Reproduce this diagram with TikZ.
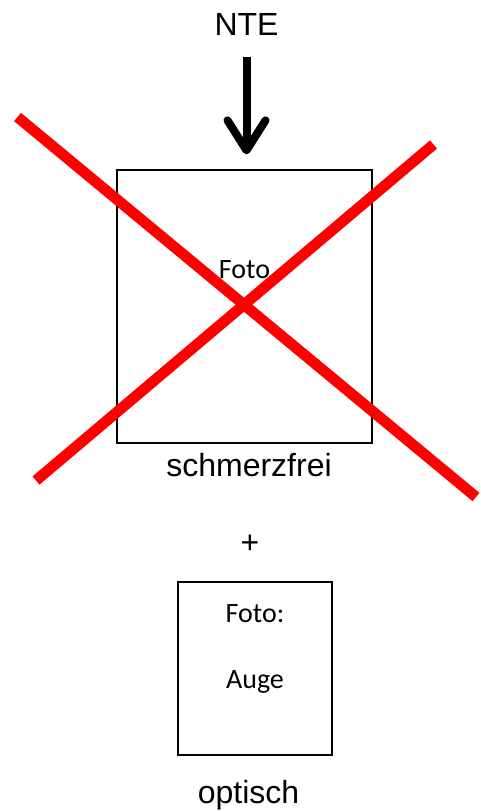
\documentclass[tikz,border=0pt]{standalone}
\usepackage{fontspec}
\setmainfont{Liberation Sans}
\newfontfamily\calibri{Carlito}
\usetikzlibrary{arrows.meta}
\tikzset{
  lbl/.style={inner sep=0pt, anchor=base, font=\fontsize{32}{38}\selectfont},
  cal/.style={inner sep=0pt, anchor=base, font=\calibri\fontsize{28}{34}\selectfont},
  photobox/.style={draw, line width=1.3pt, inner sep=0pt},
  bigarrow/.style={line width=8pt, -{Straight Barb[length=30pt,width=38pt,round]}},
  redx/.style={red, line width=10.8pt}
}
\begin{document}
\begin{tikzpicture}[x=1pt,y=-1pt]
\useasboundingbox (0,0) rectangle (480,811);
\node[lbl] (nte) at (246.5,35) {NTE};
\node[photobox, minimum width=255pt, minimum height=273pt] (bigbox) at (244.5,306.5) {};
\node[cal] (foto1) at (244.5,278) {Foto};
\node[lbl] (schmerz) at (249,476) {schmerzfrei};
\node[lbl] (plus) at (250,553) {+};
\node[photobox, minimum width=154pt, minimum height=173pt] (smallbox) at (255,668.5) {};
\node[cal] (foto2) at (255,622) {Foto:};
\node[cal] (auge) at (255,688) {Auge};
\node[lbl] (optisch) at (248.5,803) {optisch};
\draw[bigarrow, shorten <=22pt, shorten >=15pt] (nte.south) -- (nte.south |- bigbox.north);
\draw[redx] (17.5,117) -- (476,497);
\draw[redx] (433.5,144.5) -- (36,480.5);
\end{tikzpicture}
\end{document}
